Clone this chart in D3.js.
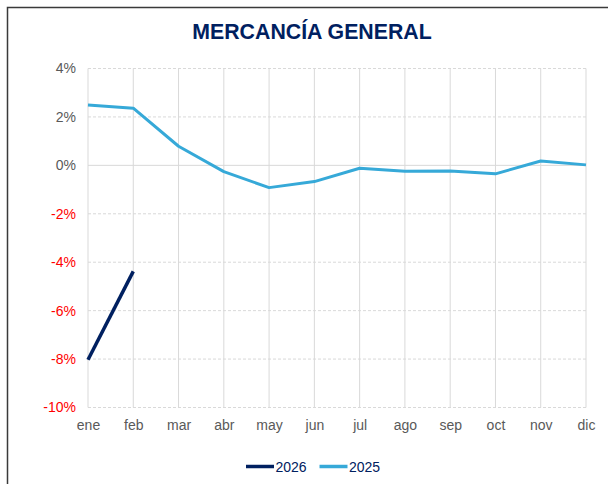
<!DOCTYPE html>
<html>
<head>
<meta charset="utf-8">
<script src="https://cdn.jsdelivr.net/npm/d3@7"></script>
<style>
  html, body { margin: 0; padding: 0; background: #fff; }
  svg { display: block; font-family: "Liberation Sans", Arial, sans-serif; }
</style>
</head>
<body>
<svg id="chart" width="608" height="484"></svg>
<script>
// Monthly variation, general merchandise
const months = ["ene", "feb", "mar", "abr", "may", "jun", "jul", "ago", "sep", "oct", "nov", "dic"];
const values2025 = [2.49, 2.36, 0.79, -0.26, -0.92, -0.67, -0.12, -0.24, -0.23, -0.35, 0.18, 0.02];
const values2026 = [-8.03, -4.38];
const yTicks = [4, 2, 0, -2, -4, -6, -8, -10];
const seriesNames = ["2026", "2025"];
const seriesColors = ["#002060", "#36A9D8"];

const svg = d3.select("#chart");

// outer frame
svg.append("rect")
  .attr("x", 7.5).attr("y", 7.5)
  .attr("width", 620).attr("height", 500)
  .attr("fill", "#fff").attr("stroke", "#3a3a3a").attr("stroke-width", 1.5);

svg.append("text")
  .attr("x", 312).attr("y", 38.5)
  .attr("text-anchor", "middle")
  .attr("font-size", 21.3).attr("font-weight", "bold")
  .attr("fill", "#002060")
  .text("MERCANCÍA GENERAL");

const plotLeft = 88, plotRight = 586, plotTop = 68.5, plotBottom = 407.5;

const x = d3.scalePoint().domain(months).range([plotLeft, plotRight]);
const y = d3.scaleLinear().domain([-10, 4]).range([plotBottom, plotTop]);

const grid = svg.append("g");
// vertical gridlines
grid.selectAll("line.v").data(months).join("line")
  .attr("class", "v")
  .attr("x1", d => x(d)).attr("x2", d => x(d))
  .attr("y1", plotTop).attr("y2", plotBottom)
  .attr("stroke", "#d9d9d9").attr("stroke-width", 1);
// horizontal gridlines
grid.selectAll("line.h").data(yTicks).join("line")
  .attr("class", "h")
  .attr("x1", plotLeft).attr("x2", plotRight)
  .attr("y1", d => y(d)).attr("y2", d => y(d))
  .attr("stroke", "#d9d9d9").attr("stroke-width", 1)
  .attr("stroke-dasharray", d => d === 0 ? null : "3,2");

// y axis labels
const yAxis = svg.append("g")
  .attr("transform", `translate(${plotLeft},0)`)
  .call(d3.axisLeft(y).tickValues(yTicks).tickSize(0).tickPadding(12)
    .tickFormat(d => d + "%"));
yAxis.select(".domain").remove();
yAxis.selectAll("text")
  .attr("font-size", 14)
  .attr("font-family", "Liberation Sans, Arial, sans-serif")
  .attr("fill", d => d < 0 ? "#FF0000" : "#595959");

// x axis labels
const xAxis = svg.append("g")
  .attr("transform", `translate(0,${plotBottom})`)
  .call(d3.axisBottom(x).tickSize(0).tickPadding(13));
xAxis.select(".domain").remove();
xAxis.selectAll("text")
  .attr("font-size", 14)
  .attr("font-family", "Liberation Sans, Arial, sans-serif")
  .attr("fill", "#595959");

const line = d3.line().x((d, i) => x(months[i])).y(d => y(d));

svg.append("path").datum(values2025)
  .attr("d", line).attr("fill", "none")
  .attr("stroke", seriesColors[1]).attr("stroke-width", 3)
  .attr("stroke-linejoin", "round");

svg.append("path").datum(values2026)
  .attr("d", line).attr("fill", "none")
  .attr("stroke", seriesColors[0]).attr("stroke-width", 3.5)
  .attr("stroke-linejoin", "round");

// legend
const legend = svg.append("g").attr("transform", "translate(246,466.5)");
const item = legend.selectAll("g").data(seriesNames).join("g")
  .attr("transform", (d, i) => `translate(${i * 73.5},0)`);
item.append("line")
  .attr("x1", 0).attr("x2", 28).attr("y1", 0).attr("y2", 0)
  .attr("stroke", (d, i) => seriesColors[i]).attr("stroke-width", 3.5);
item.append("text")
  .attr("x", 29.5).attr("y", 5.5)
  .attr("font-size", 14).attr("fill", "#002060")
  .text(d => d);
</script>
</body>
</html>
